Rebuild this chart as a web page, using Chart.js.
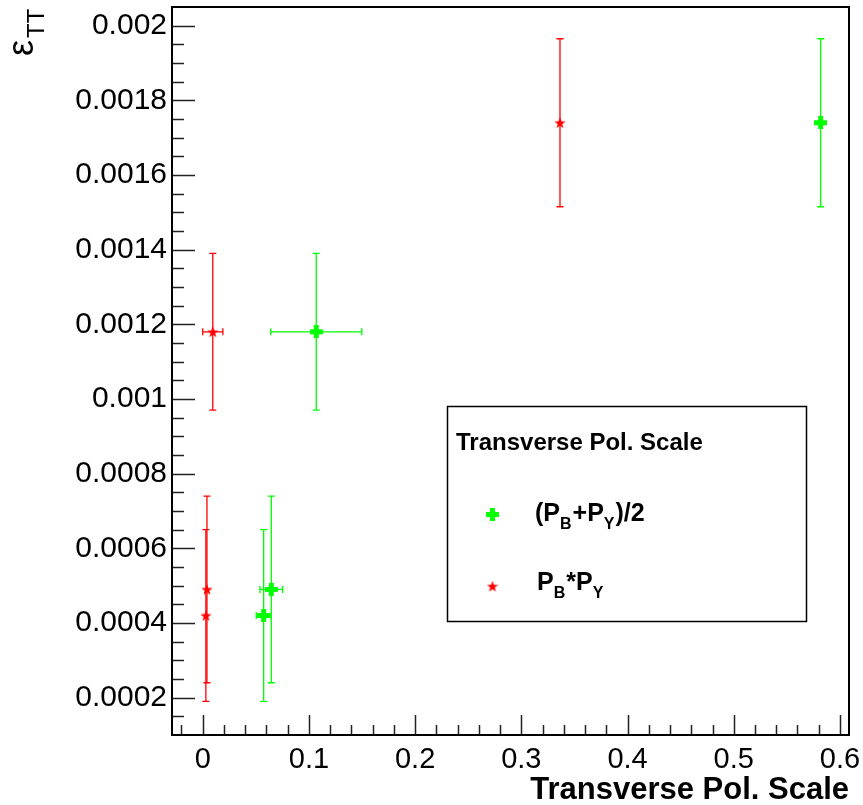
<!DOCTYPE html>
<html>
<head>
<meta charset="utf-8">
<script src="https://cdn.jsdelivr.net/npm/chart.js@4.4.1/dist/chart.umd.min.js"></script>
<style>
  html, body { margin: 0; padding: 0; background: #fff; }
  #wrap { width: 863px; height: 805px; }
</style>
</head>
<body>
<div id="wrap"><canvas id="c" width="863" height="805"></canvas></div>
<script>
// values
const greenX    = [0.0574, 0.0646, 0.1069, 0.5818]
const greenY    = [0.00042, 0.00049, 0.00118, 0.00174]
const greenXErr = [0.0070, 0.0107, 0.0429, 0]
const greenYErr = [0.00023, 0.00025, 0.00021, 0.000225]

const redX    = [0.0030, 0.0040, 0.0095, 0.3364]
const redY    = [0.00042, 0.00049, 0.00118, 0.00174]
const redXErr = [0, 0, 0.0095, 0]
const redYErr = [0.00023, 0.00025, 0.00021, 0.000225]

const xTickLabels = ['0', '0.1', '0.2', '0.3', '0.4', '0.5', '0.6']
const yTickLabels = ['0.0002', '0.0004', '0.0006', '0.0008', '0.001', '0.0012', '0.0014', '0.0016', '0.0018', '0.002']

const FONT = "'Liberation Sans', Arial, Helvetica, sans-serif"
const GREEN = '#00ff00'
const RED = '#ff0000'

// ROOT style markers as small canvases
function makeCross(size, thick, color) {
  const c = document.createElement('canvas')
  c.width = size; c.height = size
  const g = c.getContext('2d')
  g.fillStyle = color
  const o = (size - thick) / 2
  g.fillRect(o, 0, thick, size)
  g.fillRect(0, o, size, thick)
  return c
}
function makeStar(size, color) {
  const c = document.createElement('canvas')
  c.width = size; c.height = size
  const g = c.getContext('2d')
  const R = size / 2, r = R * 0.4
  g.fillStyle = color
  g.beginPath()
  for (let i = 0; i < 10; i++) {
    const a = -Math.PI / 2 + i * Math.PI / 5
    const rr = i % 2 === 0 ? R : r
    const px = R + rr * Math.cos(a), py = R + 0.5 + rr * Math.sin(a)
    if (i === 0) g.moveTo(px, py); else g.lineTo(px, py)
  }
  g.closePath()
  g.fill()
  return c
}
const crossMarker = makeCross(13, 5, GREEN)
const starMarker = makeStar(12, RED)

function toPoints(xs, ys) { return xs.map((x, i) => ({ x: x, y: ys[i] })) }

const errorBars = {
  id: 'errorBars',
  beforeDatasetsDraw(chart) {
    const ctx = chart.ctx
    const xs = chart.scales.x, ys = chart.scales.y
    const sets = [
      [greenX, greenY, greenXErr, greenYErr, GREEN],
      [redX, redY, redXErr, redYErr, RED]
    ]
    ctx.save()
    ctx.lineWidth = 1.3
    sets.forEach(([X, Y, EX, EY, col]) => {
      ctx.strokeStyle = col
      X.forEach((x, i) => {
        const px = xs.getPixelForValue(x), py = ys.getPixelForValue(Y[i])
        const yt = ys.getPixelForValue(Y[i] + EY[i]), yb = ys.getPixelForValue(Y[i] - EY[i])
        ctx.beginPath()
        ctx.moveTo(px, yt); ctx.lineTo(px, yb)
        ctx.moveTo(px - 3.5, yt); ctx.lineTo(px + 3.5, yt)
        ctx.moveTo(px - 3.5, yb); ctx.lineTo(px + 3.5, yb)
        if (EX[i] > 0) {
          const xl = xs.getPixelForValue(x - EX[i]), xr = xs.getPixelForValue(x + EX[i])
          ctx.moveTo(xl, py); ctx.lineTo(xr, py)
          ctx.moveTo(xl, py - 3.5); ctx.lineTo(xl, py + 3.5)
          ctx.moveTo(xr, py - 3.5); ctx.lineTo(xr, py + 3.5)
        }
        ctx.stroke()
      })
    })
    ctx.restore()
  }
}

function subText(ctx, parts, x, y, big, small, off) {
  parts.forEach(([t, sub]) => {
    ctx.font = 'bold ' + (sub ? small : big) + 'px ' + FONT
    ctx.fillText(t, x, sub ? y + off : y)
    x += ctx.measureText(t).width + (sub ? 1 : 0)
  })
}

const frameAndDecor = {
  id: 'frameAndDecor',
  afterDraw(chart) {
    const ctx = chart.ctx
    const a = chart.chartArea
    const xs = chart.scales.x, ys = chart.scales.y
    ctx.save()

    // ROOT-style inner ticks
    ctx.strokeStyle = '#222'
    ctx.lineWidth = 1.5
    ctx.beginPath()
    for (let i = -1; i <= 31; i++) {
      const v = i * 0.02
      if (v <= xs.min || v >= xs.max) continue
      const px = Math.round(xs.getPixelForValue(v)) + 0.5
      const len = i % 5 === 0 ? 20 : 10
      ctx.moveTo(px, a.bottom); ctx.lineTo(px, a.bottom - len)
    }
    for (let i = 1; i <= 42; i++) {
      const v = i * 0.00005
      if (v <= ys.min || v >= ys.max) continue
      const py = Math.round(ys.getPixelForValue(v)) + 0.5
      const len = i % 4 === 0 ? 23 : 12
      ctx.moveTo(a.left, py); ctx.lineTo(a.left + len, py)
    }
    ctx.stroke()

    // frame
    ctx.strokeStyle = '#000'
    ctx.lineWidth = 2
    ctx.strokeRect(a.left, a.top, a.right - a.left, a.bottom - a.top)

    // y axis title: epsilon_TT, rotated
    ctx.fillStyle = '#000'
    ctx.translate(33, 56)
    ctx.rotate(-Math.PI / 2)
    ctx.font = '36px ' + FONT
    ctx.textBaseline = 'alphabetic'
    ctx.fillText('\u03b5', 0, 0)
    const w = ctx.measureText('\u03b5').width
    ctx.font = '24px ' + FONT
    ctx.fillText('TT', w + 2, 11)
    ctx.setTransform(1, 0, 0, 1, 0, 0)

    // legend box
    ctx.lineWidth = 1.5
    ctx.strokeStyle = '#000'
    ctx.strokeRect(447.5, 406.5, 359, 215)
    ctx.font = 'bold 24px ' + FONT
    ctx.fillStyle = '#000'
    ctx.fillText('Transverse Pol. Scale', 456, 450)
    ctx.drawImage(crossMarker, 492.5 - 6.5, 514.5 - 6.5)
    ctx.drawImage(starMarker, 492.5 - 6, 586.3 - 6)
    subText(ctx, [['(P', 0], ['B', 1], ['+P', 0], ['Y', 1], [')/2', 0]], 535, 521, 25, 16, 8)
    subText(ctx, [['P', 0], ['B', 1], ['*P', 0], ['Y', 1]], 537, 590, 25, 16, 8)

    ctx.restore()
  }
}

new Chart(document.getElementById('c'), {
  type: 'scatter',
  data: {
    datasets: [
      {
        label: '(PB+PY)/2',
        data: toPoints(greenX, greenY),
        pointStyle: crossMarker,
        pointRadius: 6,
        pointHoverRadius: 6,
        showLine: false
      },
      {
        label: 'PB*PY',
        data: toPoints(redX, redY),
        pointStyle: starMarker,
        pointRadius: 6,
        pointHoverRadius: 6,
        showLine: false
      }
    ]
  },
  options: {
    responsive: false,
    animation: false,
    devicePixelRatio: 1,
    layout: { padding: { top: 3, right: 14, left: 0, bottom: 0 } },
    plugins: {
      legend: { display: false },
      tooltip: { enabled: false }
    },
    scales: {
      x: {
        type: 'linear',
        min: -0.0289,
        max: 0.6085,
        afterFit: (s) => { s.height = 70; s.paddingLeft = 0; s.paddingRight = 0 },
        afterBuildTicks: (s) => { s.ticks = xTickLabels.map(t => ({ value: +t })) },
        grid: { display: false, drawTicks: false },
        border: { display: false },
        ticks: {
          autoSkip: false,
          maxRotation: 0,
          padding: 8,
          color: '#000',
          font: { family: FONT, size: 29 },
          callback: (v) => xTickLabels.find(t => Math.abs(+t - v) < 1e-9) || ''
        },
        title: {
          display: true,
          text: 'Transverse Pol. Scale',
          align: 'end',
          color: '#000',
          padding: { top: 0, bottom: -4 },
          font: { family: FONT, size: 31, weight: 'bold' }
        }
      },
      y: {
        type: 'linear',
        min: 0.0001,
        max: 0.00205,
        afterFit: (s) => { s.width = 172; s.paddingTop = 0; s.paddingBottom = 0 },
        afterBuildTicks: (s) => { s.ticks = yTickLabels.map(t => ({ value: +t })) },
        grid: { display: false, drawTicks: false },
        border: { display: false },
        ticks: {
          autoSkip: false,
          padding: 5,
          color: '#000',
          font: { family: FONT, size: 30 },
          callback: (v) => yTickLabels.find(t => Math.abs(+t - v) < 1e-12) || ''
        }
      }
    }
  },
  plugins: [errorBars, frameAndDecor]
})
</script>
</body>
</html>
